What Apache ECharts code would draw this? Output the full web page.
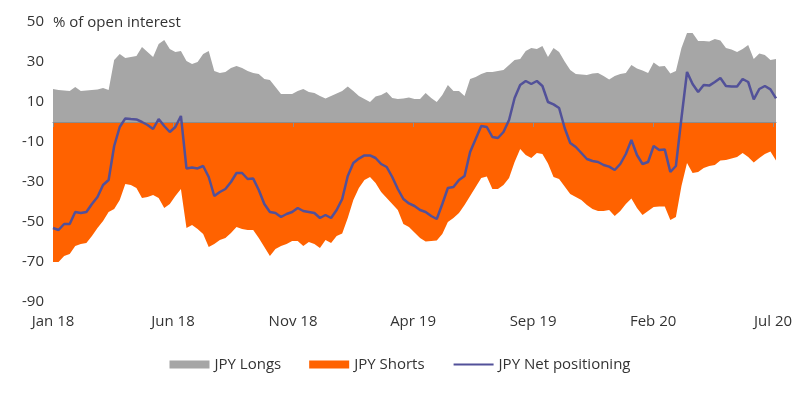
<!DOCTYPE html>
<html><head><meta charset="utf-8">
<script src="https://cdn.jsdelivr.net/npm/echarts@6/dist/echarts.min.js"></script>
<style>html,body{margin:0;padding:0;background:#fff}#c{width:800px;height:393px}</style>
</head><body><div id="c"></div>
<script>
// x-axis tick labels (every 5 months)
const tickLabels = ['Jan 18', 'Jun 18', 'Nov 18', 'Apr 19', 'Sep 19', 'Feb 20', 'Jul 20'];
const labelStepWeeks = 21.58; // weeks between tick labels on this chart

// weekly series, % of open interest
const longs = [
  16.5, 16, 15.7, 15.5, 17.5, 15.5, 15.8, 16, 16.3, 17,
  16, 31, 34, 32, 32.5, 33, 37.5, 35, 32.5, 39,
  41, 36.5, 35, 35.5, 30.5, 29, 30, 34, 35.5, 25.5,
  24.5, 25, 27, 28, 27, 25.5, 24.5, 24, 21.5, 21,
  17.5, 14, 14, 14, 15.5, 16.5, 15, 14.5, 13, 11.8,
  13, 14.3, 15.5, 17.8, 15.5, 13, 11.5, 10, 12.7, 13.5,
  15, 12, 11.5, 11.8, 12.2, 11.5, 11.5, 14.5, 12, 10,
  13.5, 18.5, 15.5, 15.5, 13, 21.5, 22.5, 24, 25, 25,
  25.5, 26, 28.5, 31, 31.5, 35.5, 37, 36.5, 38, 32.5,
  37, 35, 30.3, 26, 24, 23.7, 23.5, 24.2, 24.5, 23,
  21.3, 23, 24, 24.5, 28.5, 26.8, 25.7, 24.5, 29.7, 27.7,
  28, 24.3, 25.5, 37, 44.5, 44.5, 40.5, 40.5, 40.2, 41.5,
  40.8, 37, 36.3, 35, 36.5, 38.5, 31.5, 34.3, 33.5, 31, 31.5
];
const shorts = [
  -70, -70, -67, -66, -62, -61, -60.5, -57, -53, -49.5,
  -45, -43.5, -39, -31, -31.5, -33, -38, -37.5, -36.5, -38,
  -43, -41, -37, -33.5, -53, -51.5, -53.5, -56, -62.5, -61,
  -59, -58, -55.5, -52.5, -53.5, -54, -54, -58, -62.5, -67,
  -63.5, -62, -61, -59.5, -59.5, -62, -60, -61, -63, -59,
  -60.5, -57, -55.7, -48, -39, -33, -29, -27.5, -30.5, -35,
  -38, -41, -44, -51, -52.5, -55.3, -58, -59.8, -59.5, -59.3,
  -56, -50, -48, -45.5, -41.5, -37, -32.5, -28, -27.3, -33.5,
  -33.5, -31.5, -28, -20, -13.5, -16.5, -18, -15.5, -16, -20.7,
  -27.5, -28.5, -32.3, -36, -37.5, -39, -41.5, -43.5, -44.5, -44.5,
  -44, -47, -44.5, -41, -38.2, -43, -46.5, -44.5, -42.5, -42.3,
  -42.3, -49, -47.5, -32, -20.5, -25.5, -25, -23, -22, -21.5,
  -19.3, -19, -18.3, -17.5, -15.5, -17.5, -20.3, -18, -16, -14.8, -19.3
];
const net = [
  -53, -54, -51, -51, -45, -45.5, -45, -41, -37.5, -31.5,
  -29, -12, -2.5, 1.8, 1.5, 1.3, 0, -1.5, -3.5, 1.5,
  -2, -5, -2.5, 3, -23.2, -22.8, -23.2, -22, -27.5, -37,
  -35, -33.5, -30, -25.5, -25.5, -28.5, -28.3, -34, -41, -45,
  -45.5, -47.5, -46, -45, -43, -44.5, -45, -45.5, -48, -46.5,
  -48, -44, -38.5, -27, -20.5, -18.3, -16.7, -16.7, -18, -21,
  -22.5, -27.5, -33.5, -38.5, -40.7, -42, -44, -45, -47, -48.5,
  -41, -33, -32.5, -29, -27, -15, -8.5, -2, -2.5, -7.5,
  -8, -5, 1, 12, 18.5, 20.5, 19, 20.5, 18, 10,
  8.8, 7, -3, -10.5, -12.5, -15.5, -18.5, -19.5, -20, -21.5,
  -22.3, -24, -21, -16, -9, -16.5, -21, -20, -12, -14,
  -13.7, -25, -22, 2, 25, 19, 15, 18.5, 18.2, 20,
  22, 18, 17.7, 17.7, 21.5, 20, 11.3, 16.5, 18, 16.3, 11.8
];

const FONT = '"Open Sans", "Noto Sans", sans-serif';
const TXT = '#333333';
const tickVals = tickLabels.map((_, k) => k * labelStepWeeks);
const toPts = arr => arr.map((v, i) => [i, v]);
const lastIdx = longs.length - 1;

const chart = echarts.init(document.getElementById('c'), null, { renderer: 'canvas' });
chart.setOption({
  animation: false,
  textStyle: { fontFamily: FONT },
  grid: { left: 53, right: 24, top: 22, bottom: 91 },
  title: {
    text: '% of open interest', left: 48, top: 10,
    textStyle: { fontSize: 15, fontWeight: 'normal', color: TXT, fontFamily: FONT }
  },
  legend: {
    top: 352, left: 'center',
    itemWidth: 40, itemHeight: 8, itemGap: 28,
    textStyle: { fontSize: 15, color: TXT, fontFamily: FONT },
    data: [
      { name: 'JPY Longs', icon: 'rect' },
      { name: 'JPY Shorts', icon: 'rect' },
      { name: 'JPY Net positioning', itemStyle: { opacity: 0 } }
    ]
  },
  xAxis: [
    {
      type: 'value', min: 0, max: lastIdx, position: 'bottom', z: 3,
      axisLine: { show: true, onZero: true, lineStyle: { color: '#8c8c8c', width: 1 } },
      axisTick: { show: true, customValues: tickVals, length: 5, lineStyle: { color: '#8c8c8c' } },
      axisLabel: { show: false },
      splitLine: { show: false }
    },
    {
      type: 'value', min: 0, max: lastIdx, position: 'bottom',
      axisLine: { show: false, onZero: false },
      axisTick: { show: false },
      splitLine: { show: false },
      axisLabel: {
        customValues: tickVals,
        formatter: v => tickLabels[Math.round(v / labelStepWeeks)] || '',
        color: TXT, fontSize: 15, margin: 12, fontFamily: FONT
      }
    }
  ],
  yAxis: {
    type: 'value', min: -90, max: 50, interval: 20,
    axisLine: { show: false }, axisTick: { show: false }, splitLine: { show: false },
    axisLabel: { color: TXT, fontSize: 15, margin: 9, fontFamily: FONT }
  },
  series: [
    {
      name: 'JPY Longs', type: 'line', data: toPts(longs), symbol: 'none', z: 2,
      lineStyle: { width: 0, color: '#a6a6a6' },
      itemStyle: { color: '#a6a6a6' },
      areaStyle: { color: '#a6a6a6', opacity: 1 }
    },
    {
      name: 'JPY Shorts', type: 'line', data: toPts(shorts), symbol: 'none', z: 2,
      lineStyle: { width: 0, color: '#ff6200' },
      itemStyle: { color: '#ff6200' },
      areaStyle: { color: '#ff6200', opacity: 1 }
    },
    {
      name: 'JPY Net positioning', type: 'line', data: toPts(net), symbol: 'none', z: 4,
      lineStyle: { width: 2.5, color: '#525199' },
      itemStyle: { color: '#525199' }
    }
  ]
});
</script>
</body></html>
